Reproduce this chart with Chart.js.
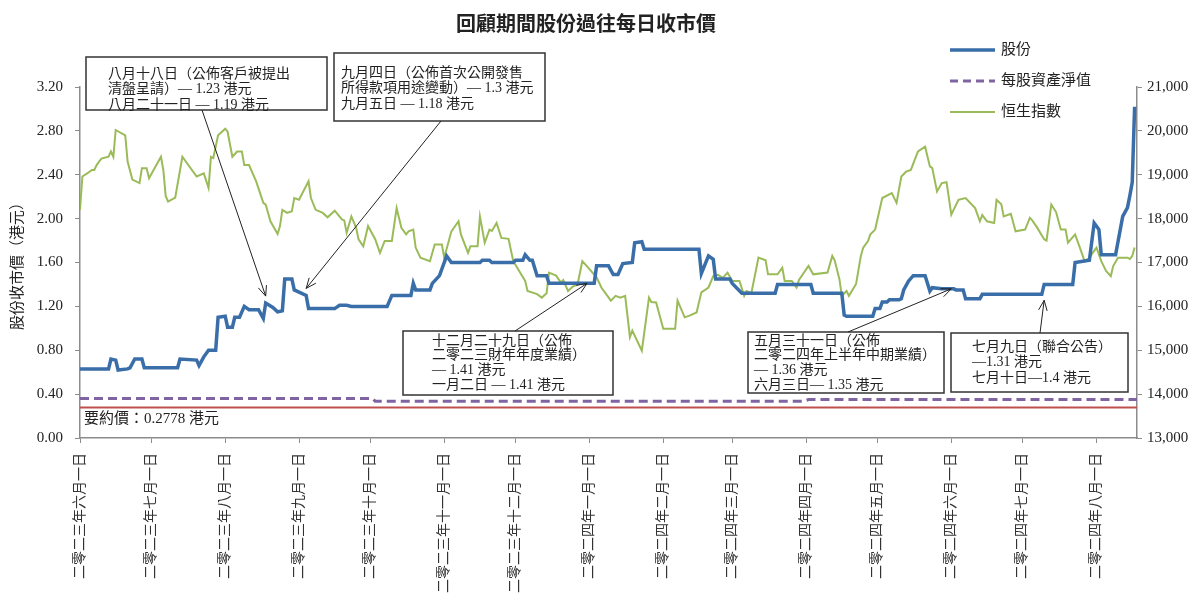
<!DOCTYPE html>
<html>
<head>
<meta charset="utf-8">
<script src="https://cdn.jsdelivr.net/npm/chart.js@4.4.1/dist/chart.umd.min.js"></script>
<style>
  body { margin: 0; background: #fff; }
  canvas { display: block; }
</style>
</head>
<body>
<canvas id="priceChart" width="1196" height="607"></canvas>
<script>
// x values are calendar days counted from 2023-06-01
var startDate = '2023-06-01';
var monthStarts = ['2023-06-01', '2023-07-01', '2023-08-01', '2023-09-01', '2023-10-01',
  '2023-11-01', '2023-12-01', '2024-01-01', '2024-02-01', '2024-03-01', '2024-04-01',
  '2024-05-01', '2024-06-01', '2024-07-01', '2024-08-01'];
var monthLabels = ['二零二三年六月一日', '二零二三年七月一日', '二零二三年八月一日', '二零二三年九月一日',
  '二零二三年十月一日', '二零二三年十一月一日', '二零二三年十二月一日', '二零二四年一月一日',
  '二零二四年二月一日', '二零二四年三月一日', '二零二四年四月一日', '二零二四年五月一日',
  '二零二四年六月一日', '二零二四年七月一日', '二零二四年八月一日'];
var lastDay = 444;

// 股份 closing price (HK$)
var shareDays = [
  0, 12, 13, 15, 16, 20, 21, 23, 26, 27,
  41, 42, 49, 50, 52, 54, 57, 58, 61, 62,
  64, 65, 67, 69, 71, 75, 77, 78, 81, 83,
  85, 86, 89, 90, 92, 95, 96, 107, 109, 112,
  114, 129, 131, 139, 140, 141, 147, 148, 151, 154,
  156, 168, 169, 172, 173, 182, 183, 186, 187, 189,
  190, 192, 196, 197, 216, 217, 222, 224, 226, 228,
  232, 233, 236, 237, 260, 261, 264, 266, 267, 273,
  274, 278, 292, 293, 307, 308, 320, 321, 322, 333,
  334, 336, 337, 339, 340, 344, 345, 346, 348, 350,
  355, 357, 358, 362, 367, 368, 371, 372, 378, 379,
  404, 405, 417, 418, 424, 426, 427, 428, 429, 435,
  438, 440, 441, 442, 443];
var shareClose = [
  0.63, 0.63, 0.72, 0.71, 0.62, 0.63, 0.64, 0.72, 0.72, 0.64,
  0.64, 0.72, 0.71, 0.66, 0.74, 0.80, 0.80, 1.10, 1.11, 1.01,
  1.01, 1.10, 1.10, 1.20, 1.17, 1.17, 1.09, 1.23, 1.19, 1.15,
  1.16, 1.45, 1.45, 1.35, 1.33, 1.30, 1.18, 1.18, 1.21, 1.21,
  1.20, 1.20, 1.30, 1.30, 1.41, 1.35, 1.35, 1.41, 1.48, 1.66,
  1.60, 1.60, 1.62, 1.62, 1.60, 1.60, 1.62, 1.62, 1.67, 1.62,
  1.62, 1.48, 1.48, 1.41, 1.41, 1.57, 1.57, 1.49, 1.49, 1.59,
  1.60, 1.78, 1.79, 1.72, 1.72, 1.50, 1.66, 1.63, 1.45, 1.45,
  1.41, 1.32, 1.32, 1.40, 1.40, 1.32, 1.32, 1.12, 1.11, 1.11,
  1.18, 1.18, 1.24, 1.24, 1.26, 1.26, 1.27, 1.35, 1.43, 1.48,
  1.48, 1.34, 1.37, 1.36, 1.36, 1.35, 1.35, 1.27, 1.27, 1.31,
  1.31, 1.40, 1.40, 1.60, 1.62, 1.96, 1.93, 1.90, 1.67, 1.67,
  2.02, 2.10, 2.21, 2.33, 3.02];

// 恒生指數
var hsiDays = [
  0, 1, 3, 5, 6, 7, 8, 9, 12, 13,
  14, 15, 19, 20, 22, 25, 26, 28, 29, 34,
  35, 36, 37, 40, 43, 49, 52, 54, 55, 56,
  58, 61, 62, 64, 66, 68, 69, 71, 74, 77,
  78, 80, 83, 84, 85, 87, 89, 90, 92, 96,
  97, 99, 102, 104, 107, 110, 111, 112, 114, 116,
  117, 119, 121, 124, 126, 128, 131, 133, 135, 137,
  138, 140, 141, 143, 147, 149, 152, 153, 156, 159,
  160, 163, 164, 167, 168, 170, 172, 173, 175, 177,
  180, 182, 187, 188, 192, 194, 196, 197, 200, 202,
  203, 205, 207, 209, 211, 214, 217, 219, 223, 225,
  227, 229, 231, 232, 236, 239, 240, 242, 245, 250,
  251, 254, 256, 259, 261, 264, 266, 268, 270, 272,
  274, 277, 279, 280, 282, 285, 288, 289, 293, 295,
  296, 299, 301, 302, 306, 308, 314, 316, 317, 319,
  320, 322, 323, 326, 328, 329, 331, 332, 334, 337,
  341, 343, 345, 347, 349, 352, 355, 357, 358, 360,
  362, 364, 366, 369, 372, 376, 378, 379, 381, 384,
  385, 387, 388, 391, 393, 397, 399, 400, 402, 405,
  406, 408, 410, 412, 414, 415, 418, 420, 422, 424,
  425, 427, 429, 431, 433, 434, 436, 440, 441, 442,
  443];
var hsiClose = [
  18200, 18960, 19030, 19110, 19110, 19220, 19300, 19370, 19410, 19530,
  19410, 20020, 19900, 19300, 18890, 18810, 19150, 19150, 18920, 19410,
  19110, 18510, 18390, 18480, 19410, 18960, 19030, 18700, 19410, 19380,
  19900, 20050, 19980, 19410, 19530, 19530, 19220, 19220, 18850, 18360,
  18320, 17940, 17650, 17830, 18200, 18130, 18170, 18470, 18430, 18850,
  18470, 18200, 18130, 18030, 18180, 17980, 17960, 17680, 18050, 17790,
  17530, 17370, 17830, 17530, 17220, 17490, 17490, 18240, 17790, 17640,
  17710, 17750, 17340, 17110, 17030, 17410, 17410, 17110, 17710, 17940,
  17640, 17220, 17370, 17370, 18050, 17450, 17750, 17720, 17900, 17560,
  17540, 17030, 16580, 16350, 16280, 16200, 16300, 16770, 16700, 16540,
  16600, 16350, 16450, 16500, 17030, 16850, 16660, 16430, 16130, 16240,
  16200, 16240, 15300, 15450, 14990, 16200, 16100, 16090, 15490, 15490,
  16130, 15750, 15790, 15860, 16320, 16430, 16690, 16720, 16650, 16770,
  16580, 16580, 16240, 16350, 16300, 17110, 17050, 16730, 16730, 16880,
  16580, 16580, 16430, 16600, 16920, 16730, 16770, 17150, 17050, 16620,
  16240, 16350, 16240, 16510, 17150, 17340, 17490, 17640, 17750, 18470,
  18580, 18360, 18960, 19070, 19110, 19530, 19640, 19190, 19150, 18620,
  18810, 18830, 18090, 18430, 18470, 18240, 17940, 18080, 17940, 17900,
  18430, 18330, 18050, 18110, 17710, 17750, 18020, 17960, 17800, 17530,
  17500, 18320, 18150, 17750, 17750, 17450, 17640, 17340, 17030, 17100,
  17190, 17340, 17030, 16810, 16690, 16920, 17110, 17110, 17080, 17150,
  17340];

// 每股資產淨值
var navDays = [0, 123, 124, 304, 306, 444];
var navValues = [0.36, 0.36, 0.335, 0.335, 0.35, 0.35];

// 要約價
var offerPrice = 0.2778;
var offerLabel = '要約價：0.2778 港元';

// tick labels
var priceTicks = [0, 0.4, 0.8, 1.2, 1.6, 2.0, 2.4, 2.8, 3.2];
var hsiTicks = [13000, 14000, 15000, 16000, 17000, 18000, 19000, 20000, 21000];

// annotated events: day, closing price
var noteDays = [78, 95, 213, 366, 405];
var noteValues = [1.23, 1.30, 1.41, 1.36, 1.31];
var noteTexts = [
  ['八月十八日（公佈客戶被提出', '清盤呈請）— 1.23 港元', '八月二十一日 — 1.19 港元'],
  ['九月四日（公佈首次公開發售', '所得款項用途變動）— 1.3 港元', '九月五日 — 1.18 港元'],
  ['十二月二十九日（公佈', '二零二三財年年度業績）', '— 1.41 港元', '一月二日 — 1.41 港元'],
  ['五月三十一日（公佈', '二零二四年上半年中期業績）', '— 1.36 港元', '六月三日— 1.35 港元'],
  ['七月九日（聯合公告）', '—1.31 港元', '七月十日—1.4 港元']
];

function dayOf(s) {
  return Math.round((Date.parse(s) - Date.parse(startDate)) / 86400000);
}
function zip(xs, ys) {
  return xs.map(function (x, i) { return {x: x, y: ys[i]}; });
}
var monthDays = monthStarts.map(dayOf);

var serif = "'Liberation Serif', 'Noto Sans CJK TC', serif";
var axisGrey = '#8c8c8c';

// boxes: left, top, width, height, text x, first line y, line gap, arrow start, tip offset
var noteBoxes = [
  {x: 86, y: 57, w: 241, h: 53, tx: 108, ty: 74, lh: 15.5, ax: 202, ay: 110, dy: -7},
  {x: 334, y: 53, w: 211, h: 68, tx: 341, ty: 73, lh: 15.5, ax: 441, ay: 121, dy: -7},
  {x: 403, y: 331, w: 210, h: 64, tx: 432, ty: 341, lh: 14.8, ax: 515, ay: 331, dy: 0},
  {x: 748, y: 332, w: 196, h: 61, tx: 754, ty: 341, lh: 14.8, ax: 848, ay: 332, dy: 0},
  {x: 951, y: 333, w: 177, h: 59, tx: 972, ty: 347, lh: 15.8, ax: 1040, ay: 333, dy: 6}
];

var extras = {
  id: 'extras',
  afterDraw: function (chart) {
    var c = chart.ctx;
    var xs = chart.scales.x, ys = chart.scales.y;
    c.save();

    // title
    c.fillStyle = '#222';
    c.font = "bold 20px 'Noto Sans CJK TC', sans-serif";
    c.textAlign = 'center';
    c.textBaseline = 'middle';
    c.fillText('回顧期間股份過往每日收市價', 586, 23);

    // legend
    var legend = [
      {label: '股份', color: '#3a6ea8', width: 3.5, dash: []},
      {label: '每股資產淨值', color: '#8064a2', width: 3, dash: [8, 5]},
      {label: '恒生指數', color: '#9bbb59', width: 2, dash: []}
    ];
    c.font = '15px ' + serif;
    c.textAlign = 'left';
    legend.forEach(function (item, i) {
      var y = 50 + i * 31;
      c.strokeStyle = item.color;
      c.lineWidth = item.width;
      c.setLineDash(item.dash);
      c.beginPath();
      c.moveTo(950, y);
      c.lineTo(995, y);
      c.stroke();
      c.setLineDash([]);
      c.fillStyle = '#222';
      c.fillText(item.label, 1001, y);
    });

    // offer price label
    c.font = '15px ' + serif;
    c.fillStyle = '#222';
    c.fillText(offerLabel, 84, ys.getPixelForValue(offerPrice) + 12);

    // annotation boxes with arrows
    noteBoxes.forEach(function (b, i) {
      c.fillStyle = '#fff';
      c.fillRect(b.x, b.y, b.w, b.h);
      c.strokeStyle = '#333';
      c.lineWidth = 1.5;
      c.strokeRect(b.x, b.y, b.w, b.h);
      c.fillStyle = '#222';
      c.font = '14px ' + serif;
      noteTexts[i].forEach(function (line, j) {
        c.fillText(line, b.tx, b.ty + j * b.lh);
      });

      var tx = xs.getPixelForValue(noteDays[i]);
      var ty = ys.getPixelForValue(noteValues[i]) + b.dy;
      var ang = Math.atan2(ty - b.ay, tx - b.ax);
      c.strokeStyle = '#222';
      c.lineWidth = 1;
      c.beginPath();
      c.moveTo(b.ax, b.ay);
      c.lineTo(tx, ty);
      c.moveTo(tx - 11 * Math.cos(ang - 0.4), ty - 11 * Math.sin(ang - 0.4));
      c.lineTo(tx, ty);
      c.lineTo(tx - 11 * Math.cos(ang + 0.4), ty - 11 * Math.sin(ang + 0.4));
      c.stroke();
    });
    c.restore();
  }
};

var ctx = document.getElementById('priceChart').getContext('2d');
var priceChart = new Chart(ctx, {
  type: 'line',
  data: {
    datasets: [{
      label: '股份',
      data: zip(shareDays, shareClose),
      borderColor: '#3a6ea8',
      borderWidth: 3.5,
      yAxisID: 'y'
    }, {
      label: '每股資產淨值',
      data: zip(navDays, navValues),
      borderColor: '#8064a2',
      borderWidth: 3,
      borderDash: [9, 5],
      yAxisID: 'y'
    }, {
      label: '恒生指數',
      data: zip(hsiDays, hsiClose),
      borderColor: '#9bbb59',
      borderWidth: 2,
      yAxisID: 'y1'
    }, {
      label: '要約價',
      data: zip([0, lastDay], [offerPrice, offerPrice]),
      borderColor: '#c0504d',
      borderWidth: 2,
      yAxisID: 'y'
    }]
  },
  options: {
    responsive: false,
    animation: false,
    devicePixelRatio: 1,
    layout: {padding: {top: 87, left: 0, right: 0, bottom: 0}},
    elements: {
      point: {radius: 0},
      line: {tension: 0, fill: false}
    },
    plugins: {
      legend: {display: false},
      title: {display: false},
      tooltip: {enabled: false}
    },
    scales: {
      x: {
        type: 'linear',
        min: 0,
        max: lastDay,
        afterBuildTicks: function (scale) {
          scale.ticks = monthDays.map(function (d) { return {value: d}; });
        },
        afterFit: function (scale) { scale.height = 169; },
        ticks: {
          autoSkip: false,
          minRotation: 90,
          maxRotation: 90,
          padding: 10,
          color: '#333',
          font: {size: 14, family: serif},
          callback: function (v, i) { return monthLabels[i]; }
        },
        grid: {drawOnChartArea: false, tickLength: 5, color: axisGrey},
        border: {color: axisGrey, width: 1.5}
      },
      y: {
        position: 'left',
        min: 0,
        max: 3.2,
        afterBuildTicks: function (scale) {
          scale.ticks = priceTicks.map(function (v) { return {value: v}; });
        },
        afterFit: function (scale) { scale.width = 80; },
        ticks: {
          padding: 12,
          color: '#222',
          font: {size: 15, family: serif},
          callback: function (v) { return v.toFixed(2); }
        },
        title: {
          display: true,
          text: '股份收市價（港元）',
          color: '#222',
          font: {size: 15, family: serif},
          padding: {top: 9, bottom: 0}
        },
        grid: {drawOnChartArea: false, tickLength: 5, color: axisGrey},
        border: {color: axisGrey, width: 1.5}
      },
      y1: {
        position: 'right',
        min: 13000,
        max: 21000,
        afterBuildTicks: function (scale) {
          scale.ticks = hsiTicks.map(function (v) { return {value: v}; });
        },
        afterFit: function (scale) { scale.width = 59; },
        ticks: {
          padding: 5,
          color: '#222',
          font: {size: 15, family: serif},
          callback: function (v) { return v.toLocaleString('en-US'); }
        },
        grid: {drawOnChartArea: false, tickLength: 5, color: axisGrey},
        border: {color: axisGrey, width: 1.5}
      }
    }
  },
  plugins: [extras]
});
</script>
</body>
</html>
